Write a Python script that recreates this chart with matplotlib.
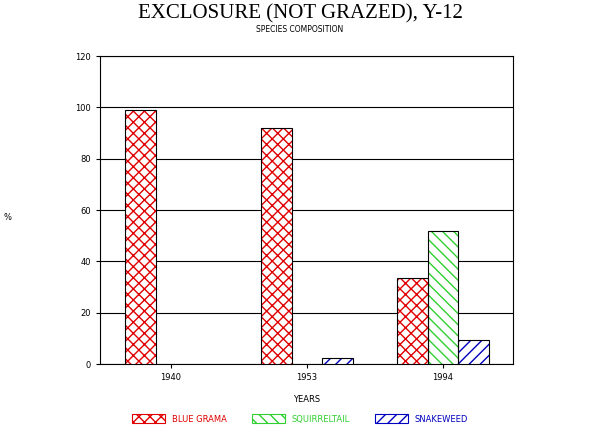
import matplotlib
matplotlib.use("Agg")
import matplotlib.pyplot as plt
from matplotlib.patches import Patch
import numpy as np

years = ["1940", "1953", "1994"]
series = ["BLUE GRAMA", "SQUIRRELTAIL", "SNAKEWEED"]
blue_grama = [99, 92, 33.5]
squirreltail = [0, 0, 52]
snakeweed = [0, 2.5, 9.5]
yticks = [0, 20, 40, 60, 80, 100, 120]

colors = ["#e00000", "#30d030", "#0000c0"]
hatches = ["xxx", "\\\\\\", "///"]
values = [blue_grama, squirreltail, snakeweed]

fig = plt.figure(figsize=(6, 4.34), dpi=100)
ax = fig.add_axes([100/600, 1-364/434, 413/600, 308/434])
x = np.arange(len(years))
w = 0.225
for i, (vals, c, h) in enumerate(zip(values, colors, hatches)):
    pos = x + (i - 1) * w
    v = np.array(vals)
    m = v > 0
    ax.bar(pos[m], v[m], w, color="white", edgecolor=c, hatch=h, linewidth=0, zorder=3)
    ax.bar(pos[m], v[m], w, fill=False, edgecolor="black", linewidth=0.8, zorder=4)

ax.set_xlim(-0.522, 2.515)
ax.set_ylim(0, 120)
ax.set_yticks(yticks)
ax.set_xticks(x)
ax.set_xticklabels(years)
ax.yaxis.grid(True, color="black", linewidth=0.8, zorder=1)
ax.tick_params(labelsize=6, length=3)
for s in ax.spines.values():
    s.set_linewidth(0.8)
ax.set_xlabel("YEARS", fontsize=6, labelpad=9)
fig.text(8/600, 1-217/434, "%", fontsize=6, va="center", ha="center")
fig.text(0.5, 1-14/434, "EXCLOSURE (NOT GRAZED), Y-12", ha="center", va="center",
         fontsize=15, family="Liberation Serif")
fig.text(0.5, 1-30/434, "SPECIES COMPOSITION", ha="center", va="center", fontsize=5.5)

handles = [Patch(facecolor="white", edgecolor=c, hatch=h) for c, h in zip(colors, hatches)]
leg = fig.legend(handles, series, loc="center", bbox_to_anchor=(0.5, 1-419/434), ncol=3,
                 frameon=False, fontsize=6, handlelength=4, handleheight=1.2, columnspacing=3)
for t, c in zip(leg.get_texts(), colors):
    t.set_color(c)
for p in leg.get_patches():
    p.set_linewidth(0.8)
fig.savefig("out.png", dpi=100)
